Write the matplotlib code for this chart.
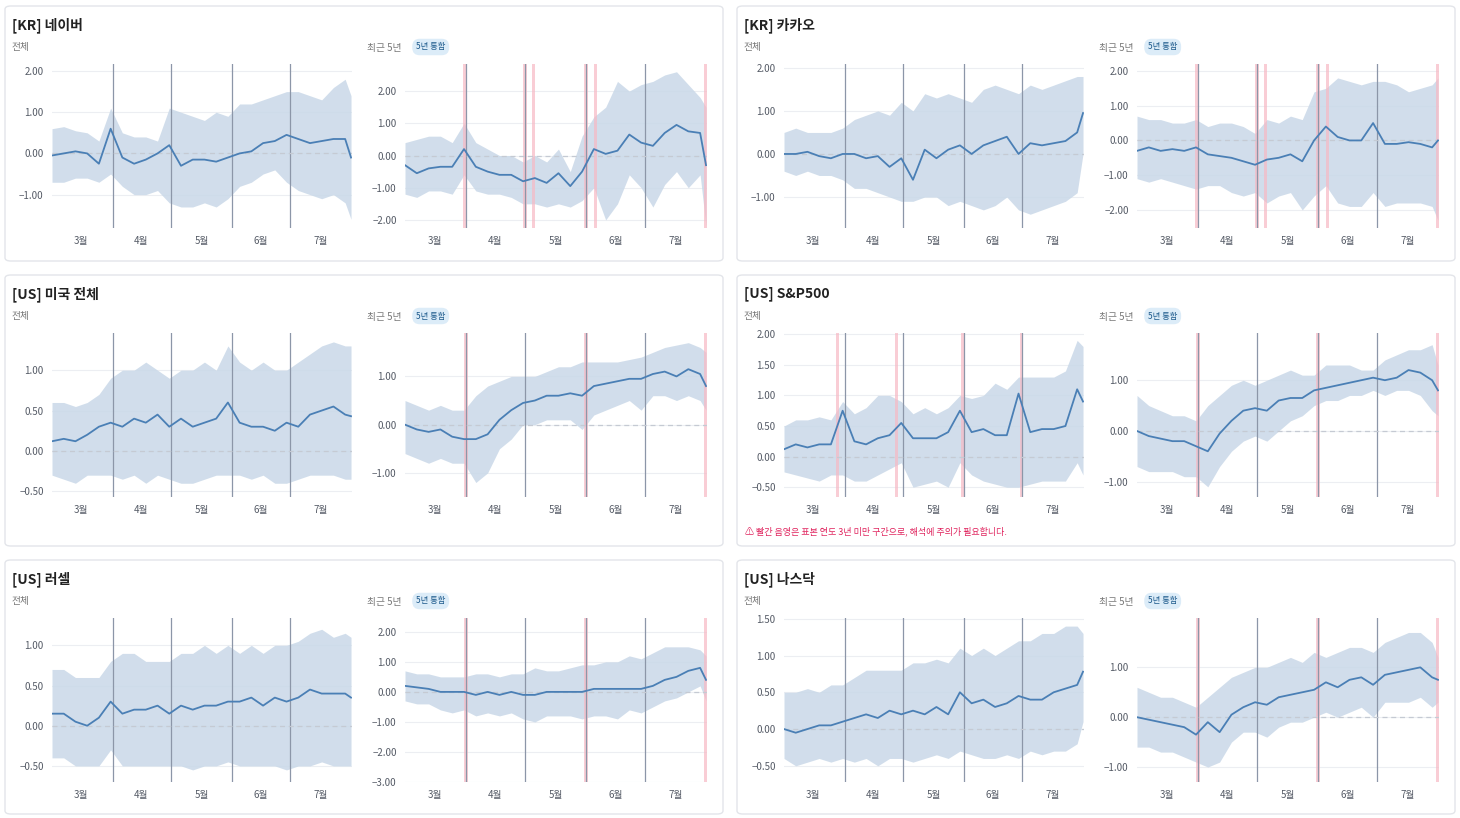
import numpy as np
import matplotlib
matplotlib.use("Agg")
import matplotlib.pyplot as plt
from matplotlib.patches import FancyBboxPatch

plt.rcParams['font.family'] = ['Noto Sans CJK KR', 'DejaVu Sans']

W, H = 1460, 818

# sample days (0 = 3/1); last point is day 153
DAYS = list(range(0, 151, 6)) + [153]
MONTH_LINES = [31, 61, 92, 122]
MONTH_LABEL_POS = [15, 45.5, 76.5, 107, 137.5]
MONTH_LABELS = ["3월", "4월", "5월", "6월", "7월"]

naver_all_mean = [-0.05,0.0,0.05,0.0,-0.25,0.6,-0.1,-0.25,-0.15,0.0,0.2,-0.3,-0.15,-0.15,-0.2,-0.1,0.0,0.05,0.25,0.3,0.45,0.35,0.25,0.3,0.35,0.35,-0.1]
naver_all_hi = [0.6,0.65,0.55,0.5,0.3,1.1,0.5,0.4,0.4,0.3,1.1,1.0,0.9,0.8,1.0,0.9,1.2,1.2,1.3,1.4,1.5,1.5,1.4,1.3,1.6,1.8,1.4]
naver_all_lo = [-0.7,-0.7,-0.6,-0.6,-0.7,-0.5,-0.8,-1.0,-1.0,-0.9,-1.2,-1.3,-1.3,-1.2,-1.3,-1.1,-0.8,-0.7,-0.5,-0.4,-0.7,-0.9,-1.0,-1.1,-1.0,-1.2,-1.6]
naver_5y_mean = [-0.3,-0.55,-0.4,-0.35,-0.35,0.2,-0.35,-0.5,-0.6,-0.6,-0.8,-0.7,-0.85,-0.55,-0.95,-0.5,0.2,0.05,0.15,0.65,0.4,0.3,0.7,0.95,0.75,0.7,-0.3]
naver_5y_hi = [0.4,0.5,0.6,0.6,0.4,1.0,0.4,0.2,0.0,0.0,-0.2,0.0,-0.2,0.2,-0.5,0.6,1.2,1.5,2.3,2.0,2.2,2.3,2.5,2.6,2.2,1.8,1.5]
naver_5y_lo = [-1.2,-1.3,-1.1,-1.1,-1.2,-0.6,-1.1,-1.2,-1.2,-1.3,-1.5,-1.5,-1.6,-1.5,-1.6,-1.4,-1.0,-2.0,-1.5,-0.6,-1.0,-1.6,-0.9,-0.5,-1.0,-0.6,-2.2]

kakao_all_mean = [0.0,0.0,0.05,-0.05,-0.1,0.0,0.0,-0.1,-0.05,-0.3,-0.1,-0.6,0.1,-0.1,0.1,0.2,0.0,0.2,0.3,0.4,0.0,0.25,0.2,0.25,0.3,0.5,0.95]
kakao_all_hi = [0.5,0.6,0.5,0.5,0.5,0.6,0.8,0.9,1.0,0.9,1.2,1.0,1.4,1.3,1.4,1.3,1.2,1.5,1.6,1.5,1.4,1.6,1.5,1.6,1.7,1.8,1.8]
kakao_all_lo = [-0.4,-0.5,-0.4,-0.5,-0.5,-0.6,-0.8,-0.8,-0.9,-1.0,-1.1,-1.1,-1.0,-1.0,-1.2,-1.1,-1.2,-1.3,-1.2,-1.0,-1.3,-1.4,-1.3,-1.2,-1.1,-0.9,0.0]
kakao_5y_mean = [-0.3,-0.2,-0.3,-0.25,-0.3,-0.2,-0.4,-0.45,-0.5,-0.6,-0.7,-0.55,-0.5,-0.4,-0.6,0.0,0.4,0.1,0.0,0.0,0.5,-0.1,-0.1,-0.05,-0.1,-0.2,0.0]
kakao_5y_hi = [0.7,0.6,0.6,0.5,0.5,0.6,0.4,0.5,0.5,0.4,0.2,0.6,0.5,0.7,0.6,1.4,1.5,1.8,1.7,1.6,1.7,1.7,1.6,1.4,1.5,1.6,1.8]
kakao_5y_lo = [-1.1,-1.2,-1.1,-1.2,-1.3,-1.4,-1.3,-1.3,-1.5,-1.6,-1.5,-1.8,-1.6,-1.5,-2.0,-1.6,-1.3,-1.8,-1.9,-1.9,-1.5,-1.9,-1.8,-1.8,-1.8,-1.9,-2.3]

us_all_mean = [0.12,0.15,0.12,0.2,0.3,0.35,0.3,0.4,0.35,0.45,0.3,0.4,0.3,0.35,0.4,0.6,0.35,0.3,0.3,0.25,0.35,0.3,0.45,0.5,0.55,0.45,0.43]
us_all_hi = [0.6,0.6,0.55,0.6,0.7,0.9,1.0,1.0,1.1,1.0,0.9,1.0,1.0,1.1,1.0,1.3,1.1,1.0,1.1,1.0,1.0,1.1,1.2,1.3,1.35,1.3,1.3]
us_all_lo = [-0.3,-0.35,-0.4,-0.3,-0.3,-0.3,-0.35,-0.3,-0.4,-0.3,-0.35,-0.4,-0.4,-0.35,-0.3,-0.3,-0.3,-0.35,-0.3,-0.4,-0.4,-0.35,-0.3,-0.3,-0.3,-0.35,-0.35]
us_5y_mean = [0.0,-0.1,-0.15,-0.1,-0.25,-0.3,-0.3,-0.2,0.1,0.3,0.45,0.5,0.6,0.6,0.65,0.6,0.8,0.85,0.9,0.95,0.95,1.05,1.1,1.0,1.15,1.05,0.8]
us_5y_hi = [0.5,0.4,0.3,0.4,0.3,0.3,0.6,0.8,0.9,1.0,1.0,1.0,1.1,1.2,1.2,1.3,1.3,1.3,1.3,1.35,1.4,1.5,1.6,1.65,1.7,1.6,1.5]
us_5y_lo = [-0.6,-0.7,-0.8,-0.7,-0.8,-0.8,-1.2,-1.0,-0.5,-0.3,0.0,0.0,0.1,0.1,0.1,-0.1,0.2,0.3,0.4,0.5,0.3,0.6,0.6,0.5,0.6,0.5,0.3]

sp_all_mean = [0.12,0.2,0.15,0.2,0.2,0.75,0.25,0.2,0.3,0.35,0.55,0.3,0.3,0.3,0.4,0.75,0.4,0.45,0.35,0.35,1.03,0.4,0.45,0.45,0.5,1.1,0.9]
sp_all_hi = [0.5,0.6,0.6,0.65,0.6,0.9,0.7,0.8,1.0,1.0,0.9,0.7,0.8,0.7,0.8,1.0,0.95,1.0,1.2,1.1,1.3,1.3,1.3,1.3,1.4,1.9,1.8]
sp_all_lo = [-0.25,-0.3,-0.35,-0.4,-0.3,-0.3,-0.4,-0.4,-0.3,-0.2,-0.1,-0.5,-0.45,-0.4,-0.5,-0.1,-0.3,-0.4,-0.45,-0.5,-0.5,-0.45,-0.4,-0.4,-0.4,-0.1,-0.3]
sp_5y_mean = [0.0,-0.1,-0.15,-0.2,-0.2,-0.3,-0.4,-0.05,0.2,0.4,0.45,0.4,0.6,0.65,0.65,0.8,0.85,0.9,0.95,1.0,1.05,1.0,1.05,1.2,1.15,1.0,0.8]
sp_5y_hi = [0.7,0.5,0.4,0.3,0.3,0.2,0.5,0.7,0.9,1.0,0.9,1.0,1.1,1.2,1.1,1.1,1.3,1.3,1.3,1.2,1.2,1.4,1.5,1.6,1.6,1.7,1.3]
sp_5y_lo = [-0.7,-0.8,-0.8,-0.8,-0.9,-0.9,-1.1,-0.7,-0.4,-0.2,-0.1,-0.2,0.0,0.2,0.3,0.5,0.6,0.6,0.7,0.7,0.8,0.7,0.8,0.8,0.7,0.4,0.3]

ru_all_mean = [0.15,0.15,0.05,0.0,0.1,0.3,0.15,0.2,0.2,0.25,0.15,0.25,0.2,0.25,0.25,0.3,0.3,0.35,0.25,0.35,0.3,0.35,0.45,0.4,0.4,0.4,0.35]
ru_all_hi = [0.7,0.7,0.6,0.6,0.6,0.8,0.9,0.9,0.8,0.8,0.8,0.9,0.9,1.0,0.9,1.0,0.9,1.0,0.9,1.0,1.0,1.05,1.15,1.2,1.1,1.15,1.1]
ru_all_lo = [-0.4,-0.4,-0.5,-0.5,-0.5,-0.3,-0.5,-0.5,-0.5,-0.5,-0.5,-0.5,-0.55,-0.5,-0.5,-0.45,-0.5,-0.5,-0.5,-0.5,-0.55,-0.5,-0.5,-0.45,-0.5,-0.5,-0.5]
ru_5y_mean = [0.2,0.15,0.1,0.0,0.0,0.0,-0.1,0.0,-0.1,0.0,-0.1,-0.1,0.0,0.0,0.0,0.0,0.1,0.1,0.1,0.1,0.1,0.2,0.4,0.5,0.7,0.8,0.4]
ru_5y_hi = [0.7,0.6,0.6,0.5,0.5,0.5,0.6,0.6,0.5,0.6,0.6,0.8,0.7,0.7,0.8,0.9,0.9,1.0,1.0,1.2,1.1,1.3,1.5,1.5,1.5,1.4,1.2]
ru_5y_lo = [-0.3,-0.4,-0.4,-0.6,-0.7,-0.6,-0.8,-0.7,-0.8,-0.7,-0.9,-1.0,-0.8,-0.8,-0.8,-0.9,-0.8,-0.8,-0.9,-0.6,-0.7,-0.5,-0.3,-0.2,0.0,0.2,-0.3]

nq_all_mean = [0.0,-0.05,0.0,0.05,0.05,0.1,0.15,0.2,0.15,0.25,0.2,0.25,0.2,0.3,0.2,0.5,0.35,0.4,0.3,0.35,0.45,0.4,0.4,0.5,0.55,0.6,0.78]
nq_all_hi = [0.5,0.5,0.55,0.5,0.6,0.6,0.7,0.8,0.8,0.8,0.8,0.9,0.9,0.95,0.9,1.1,1.0,1.1,1.0,1.1,1.2,1.2,1.3,1.3,1.4,1.4,1.3]
nq_all_lo = [-0.4,-0.5,-0.45,-0.4,-0.45,-0.4,-0.45,-0.4,-0.5,-0.4,-0.4,-0.45,-0.4,-0.35,-0.4,-0.3,-0.35,-0.4,-0.4,-0.35,-0.4,-0.3,-0.35,-0.3,-0.3,-0.2,0.1]
nq_5y_mean = [0.0,-0.05,-0.1,-0.15,-0.2,-0.35,-0.1,-0.3,0.05,0.2,0.3,0.25,0.4,0.45,0.5,0.55,0.7,0.6,0.75,0.8,0.65,0.85,0.9,0.95,1.0,0.8,0.75]
nq_5y_hi = [0.6,0.5,0.4,0.4,0.3,0.2,0.4,0.6,0.8,0.9,1.0,1.0,1.1,1.2,1.1,1.3,1.2,1.3,1.4,1.4,1.3,1.5,1.6,1.7,1.7,1.5,1.2]
nq_5y_lo = [-0.6,-0.6,-0.7,-0.7,-0.8,-0.9,-1.0,-0.9,-0.5,-0.3,-0.3,-0.4,-0.2,-0.1,-0.1,0.0,0.1,0.0,0.1,0.2,0.0,0.3,0.3,0.3,0.4,0.2,0.3]

# red (few sample years) day positions
RED_KR = [30.5, 61, 65.5, 92, 97, 153]
RED_US = [31, 92, 153]
RED_SP_ALL = [27.5, 57.5, 91.5, 121.5]

# (title, card col, card row, left panel, right panel)
# panel = (mean, hi, lo, ylim, yticks, red days)
CARDS = [
    ("[KR] 네이버", 0, 0,
     (naver_all_mean, naver_all_hi, naver_all_lo, (-1.81, 2.17), [-1, 0, 1, 2], []),
     (naver_5y_mean, naver_5y_hi, naver_5y_lo, (-2.25, 2.84), [-2, -1, 0, 1, 2], RED_KR)),
    ("[KR] 카카오", 1, 0,
     (kakao_all_mean, kakao_all_hi, kakao_all_lo, (-1.72, 2.09), [-1, 0, 1, 2], []),
     (kakao_5y_mean, kakao_5y_hi, kakao_5y_lo, (-2.52, 2.2), [-2, -1, 0, 1, 2], RED_KR)),
    ("[US] 미국 전체", 0, 1,
     (us_all_mean, us_all_hi, us_all_lo, (-0.57, 1.46), [-0.5, 0, 0.5, 1], []),
     (us_5y_mean, us_5y_hi, us_5y_lo, (-1.5, 1.9), [-1, 0, 1], RED_US)),
    ("[US] S&P500", 1, 1,
     (sp_all_mean, sp_all_hi, sp_all_lo, (-0.66, 2.02), [-0.5, 0, 0.5, 1, 1.5, 2], RED_SP_ALL),
     (sp_5y_mean, sp_5y_hi, sp_5y_lo, (-1.3, 1.93), [-1, 0, 1], RED_US)),
    ("[US] 러셀", 0, 2,
     (ru_all_mean, ru_all_hi, ru_all_lo, (-0.7, 1.34), [-0.5, 0, 0.5, 1], []),
     (ru_5y_mean, ru_5y_hi, ru_5y_lo, (-3.0, 2.46), [-3, -2, -1, 0, 1, 2], RED_US)),
    ("[US] 나스닥", 1, 2,
     (nq_all_mean, nq_all_hi, nq_all_lo, (-0.72, 1.51), [-0.5, 0, 0.5, 1, 1.5], []),
     (nq_5y_mean, nq_5y_hi, nq_5y_lo, (-1.3, 1.99), [-1, 0, 1], RED_US)),
]

CARD_X = [5, 737]
CARD_W = 718
CARD_Y = [6, 275, 560]
CARD_H = [255, 271, 254]

LINE = "#4a7fb5"
BAND = "#c9d8e8"
GREY = "#8c96a8"
RED = "#f7b9c4"

fig = plt.figure(figsize=(W / 100, H / 100), dpi=100)
fig.patch.set_facecolor("white")


def fx(px):
    return px / W


def fy(py):
    return 1 - py / H


def panel(x0, x1, top, bottom, data):
    mean, hi, lo, ylim, yticks, reds = data
    ax = fig.add_axes([fx(x0), fy(bottom), fx(x1 - x0), (bottom - top) / H])
    ax.set_facecolor("none")
    for s in ax.spines.values():
        s.set_visible(False)
    ax.fill_between(DAYS, lo, hi, color=BAND, alpha=0.85, lw=0)
    for d in reds:
        ax.axvspan(d - 0.8, d + 0.8, color=RED, alpha=0.7, lw=0)
    for d in MONTH_LINES:
        ax.axvline(d, color=GREY, lw=0.9)
    ax.axhline(0, color="#c5cad3", lw=0.9, ls=(0, (4, 3)))
    ax.plot(DAYS, mean, color=LINE, lw=1.3)
    ax.set_xlim(0, 153.5)
    ax.set_ylim(*ylim)
    ax.set_yticks(yticks)
    ax.set_yticklabels([f"{v:.2f}".replace("-", "\u2212") for v in yticks])
    ax.set_xticks(MONTH_LABEL_POS)
    ax.set_xticklabels(MONTH_LABELS)
    ax.tick_params(length=0, labelsize=7, colors="#555b66", pad=6)
    ax.grid(axis="y", color="#eceef2", lw=0.8)
    ax.set_axisbelow(True)
    return ax


for title, col, row, left, right in CARDS:
    cx, cy, ch = CARD_X[col], CARD_Y[row], CARD_H[row]
    card = FancyBboxPatch((fx(cx), fy(cy + ch)), fx(CARD_W), ch / H,
                          boxstyle="round,pad=0,rounding_size=0.004",
                          transform=fig.transFigure, fc="white", ec="#e3e5ea", lw=1, zorder=-5)
    fig.patches.append(card)
    fig.text(fx(cx + 7), fy(cy + 19), title, fontsize=10, fontweight="bold", color="#222", va="center")
    fig.text(fx(cx + 7), fy(cy + 41), "전체", fontsize=7, color="#777", va="center")
    fig.text(fx(cx + 362), fy(cy + 42), "최근 5년", fontsize=7, color="#777", va="center")
    fig.text(fx(cx + 411), fy(cy + 41), "5년 통합", fontsize=6, color="#1d5a8c", va="center",
             bbox=dict(boxstyle="round,pad=0.45,rounding_size=0.9", fc="#dcecf8", ec="none"))
    top, bottom = cy + 58, cy + 222
    panel(cx + 47, cx + 347, top, bottom, left)
    panel(cx + 400, cx + 702, top, bottom, right)

fig.text(fx(745), fy(531), "⚠ 빨간 음영은 표본 연도 3년 미만 구간으로, 해석에 주의가 필요합니다.",
         fontsize=6.5, color="#e0245e", va="center")

fig.savefig("out.png", dpi=100)
